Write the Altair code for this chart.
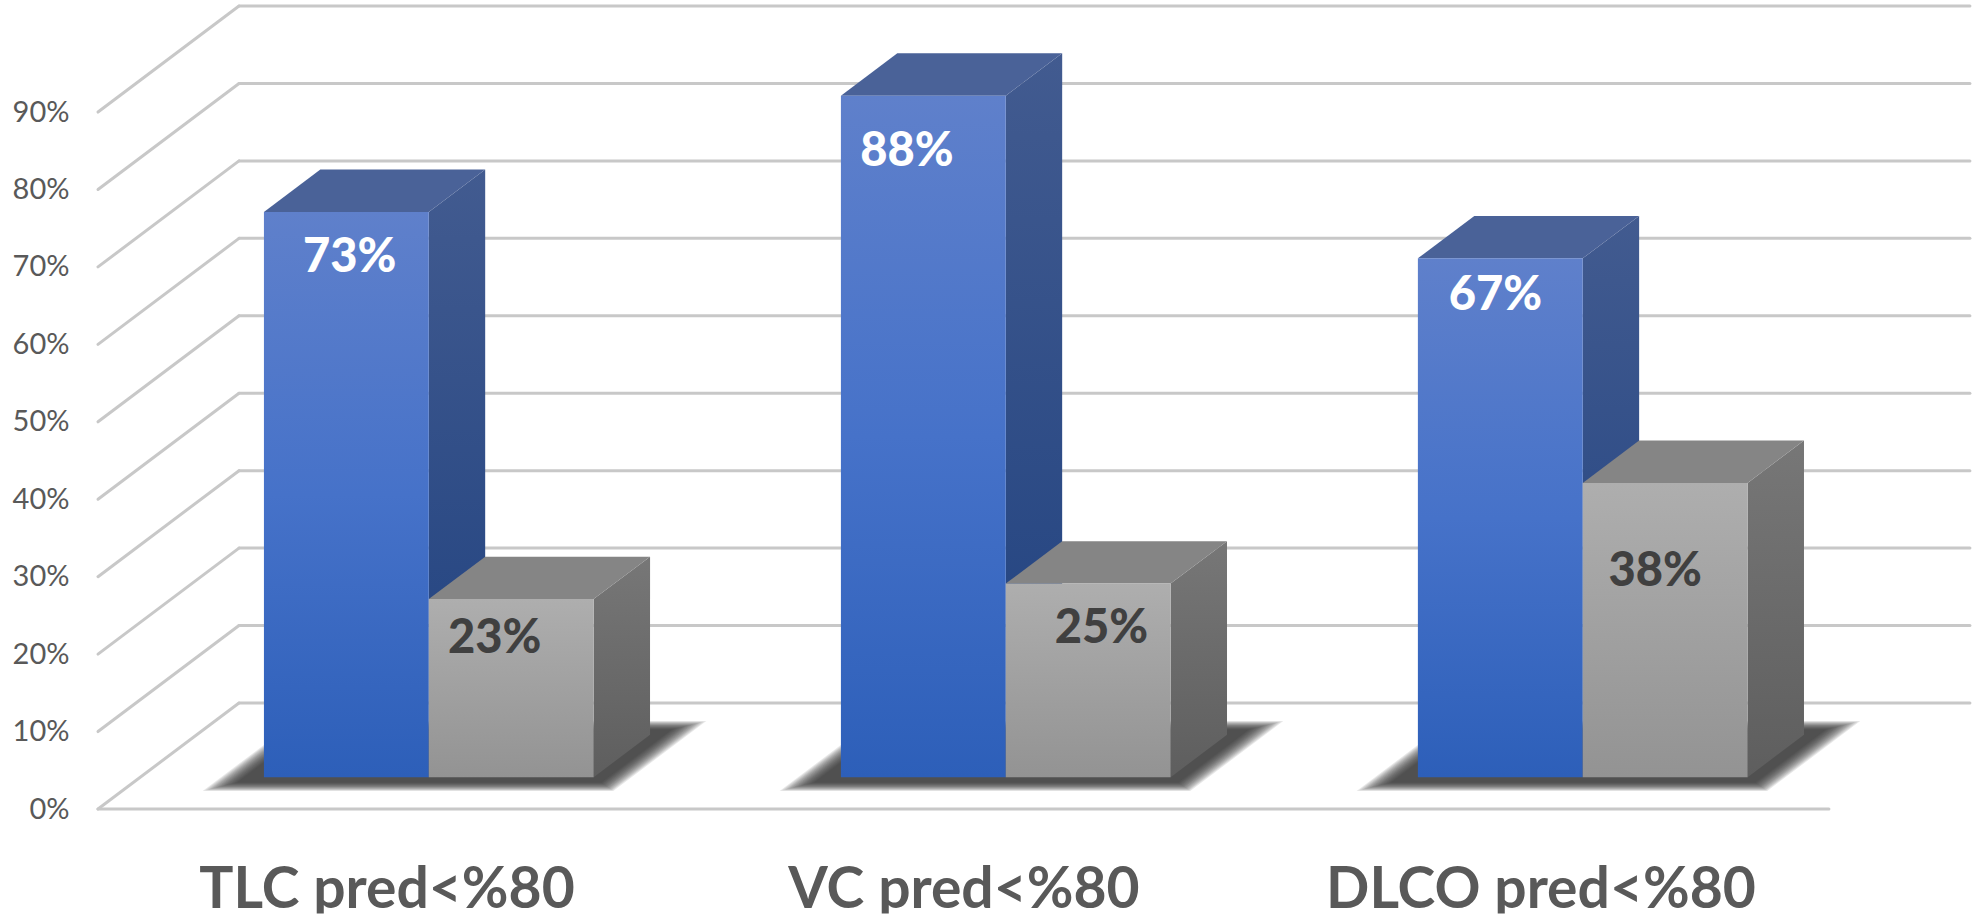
import altair as alt
import pandas as pd

# Chart values
CATEGORIES = ["TLC pred<%80", "VC pred<%80", "DLCO pred<%80"]
BLUE_VALUES = [73, 88, 67]
GRAY_VALUES = [23, 25, 38]
TICKS = [0, 10, 20, 30, 40, 50, 60, 70, 80, 90]

# Oblique projection: x is measured in bar widths, y in percent, depth runs 0..1
BAR_W_PX = 164.85
PX_PER_PCT = 7.744
DEPTH_X = 141 / BAR_W_PX
DEPTH_Y = 106 / PX_PER_PCT
GROUP_STEP = 3.5
GROUP_START = 0.75
BAR_D0, BAR_D1 = 0.30, 0.70
FLOOR_W = 10.5

PLOT_W, PLOT_H = 1874, 809
x_scale = alt.Scale(domain=[0, PLOT_W / BAR_W_PX], nice=False, zero=False)
y_scale = alt.Scale(domain=[0, PLOT_H / PX_PER_PCT], nice=False, zero=False)

# The value axis sits on the front edge of the floor, the category names under each group
x_axis = alt.Axis(
    values=[GROUP_START + 1 + g * GROUP_STEP for g in range(len(CATEGORIES))],
    labelExpr=f"{CATEGORIES!r}[round((datum.value - {GROUP_START + 1}) / {GROUP_STEP})]",
    title=None, domain=False, ticks=False, grid=False,
    labelFont="Lato", labelFontWeight="bold", labelFontSize=57, labelColor="#595959",
    labelPadding=98, labelBaseline="alphabetic", labelOverlap=False, labelFlush=False,
    labelBound=False, labelLimit=800,
)
y_axis = alt.Axis(
    values=TICKS,
    labelExpr="datum.value + '%'",
    title=None, domain=False, ticks=False, grid=False,
    labelFont="Lato", labelFontSize=29, labelColor="#595959",
    labelPadding=29, labelOverlap=False, labelBound=False,
)


def project(x, v, d):
    return x + d * DEPTH_X, v + d * DEPTH_Y


def grad(top, bottom, mid=None):
    stops = [alt.GradientStop(color=top, offset=0)]
    if mid:
        stops.append(alt.GradientStop(color=mid, offset=0.5))
    stops.append(alt.GradientStop(color=bottom, offset=1))
    return alt.LinearGradient(gradient="linear", stops=stops, x1=0, x2=0, y1=0, y2=1)


def X(field="x"):
    return alt.X(f"{field}:Q", scale=x_scale, axis=x_axis, title=None)


def Y(field="y"):
    return alt.Y(f"{field}:Q", scale=y_scale, axis=y_axis, title=None)


# Wall and floor lines
grid_rows = []
for v in TICKS:
    for name, pts in (("diag", [(0, 0), (0, 1)]), ("back", [(0, 1), (FLOOR_W, 1)])):
        for xu, d in pts:
            px, py = project(xu, v, d)
            grid_rows.append({"id": f"{name}{v}", "x": px, "y": py})
for xu in (0, FLOOR_W):
    grid_rows.append({"id": "front", "x": xu, "y": 0})

grid = alt.Chart(pd.DataFrame(grid_rows)).mark_line(
    color="#c8c8c8", strokeWidth=3, strokeCap="round", clip=False
).encode(x=X(), y=Y(), detail="id:N")

# Soft floor shadow: nested parallelograms of low opacity
SHADOW_LEVELS = 14
shadow_rows = []
for g in range(len(CATEGORIES)):
    x0 = GROUP_START + g * GROUP_STEP
    for lvl in range(SHADOW_LEVELS):
        grow = 1 - lvl / (SHADOW_LEVELS - 1)
        xa, xb = x0 - 0.12 - 0.14 * grow, x0 + 2.09 + 0.14 * grow
        d0, d1 = 0.25 - 0.08 * grow, 0.75 + 0.08 * grow
        for d in (d0, d1):
            pa, py = project(xa, 0, d)
            pb, _ = project(xb, 0, d)
            shadow_rows.append({"id": f"{g}-{lvl}", "x": pa, "x2": pb, "y": py})

shadow = alt.Chart(pd.DataFrame(shadow_rows)).mark_area(
    orient="horizontal", color="#2e2e2e", opacity=0.115, clip=False
).encode(x=X(), x2="x2:Q", y=Y(), detail="id:N")


def bar_layers(values, offset, front, side, top):
    fronts, sides, tops = [], [], []
    for g, v in enumerate(values):
        x0 = GROUP_START + g * GROUP_STEP + offset
        x1 = x0 + 1
        fx0, fy0 = project(x0, 0, BAR_D0)
        fx1, fy1 = project(x1, v, BAR_D0)
        fronts.append({"x": fx0, "x2": fx1, "y": fy1, "y2": fy0})
        for d in (BAR_D0, BAR_D1):
            sx, sy = project(x1, v, d)
            _, sb = project(x1, 0, d)
            sides.append({"id": g, "x": sx, "y": sy, "y2": sb})
            tx0, ty = project(x0, v, d)
            tx1, _ = project(x1, v, d)
            tops.append({"id": g, "x": tx0, "x2": tx1, "y": ty})
    side_chart = alt.Chart(pd.DataFrame(sides)).mark_area(
        orient="vertical", color=side, opacity=1, clip=False
    ).encode(x=X(), y=Y(), y2="y2:Q", detail="id:N")
    top_chart = alt.Chart(pd.DataFrame(tops)).mark_area(
        orient="horizontal", color=top, opacity=1, clip=False
    ).encode(x=X(), x2="x2:Q", y=Y(), detail="id:N")
    front_chart = alt.Chart(pd.DataFrame(fronts)).mark_rect(
        color=front, opacity=1, clip=False
    ).encode(x=X(), x2="x2:Q", y=Y(), y2="y2:Q")
    return [side_chart, top_chart, front_chart]


blue = bar_layers(
    BLUE_VALUES, 0,
    grad("#5f80cb", "#2d5fb9", "#4672c9"),
    grad("#425b90", "#1f417f"),
    "#4a6298",
)
gray = bar_layers(
    GRAY_VALUES, 1,
    grad("#aeaeae", "#939393"),
    grad("#777777", "#5e5e5e"),
    "#858585",
)

# Value labels, placed by hand on the front faces (bar widths right of the bar's left edge, percent below its top)
BLUE_LABEL_SHIFT = [(0.52, 6.0), (0.40, 7.3), (0.47, 4.9)]
GRAY_LABEL_SHIFT = [(0.40, 5.2), (0.58, 5.8), (0.44, 11.5)]


def label_frame(values, offset, shifts):
    rows = []
    for g, (v, (sx, sy)) in enumerate(zip(values, shifts)):
        x0 = GROUP_START + g * GROUP_STEP + offset
        px, py = project(x0 + sx, v - sy, BAR_D0)
        rows.append({"x": px, "y": py, "label": f"{v}%"})
    return pd.DataFrame(rows)


def label_chart(values, offset, shifts, colour):
    return alt.Chart(label_frame(values, offset, shifts)).mark_text(
        font="Lato", fontWeight=900, fontSize=47, color=colour, baseline="middle", align="center"
    ).encode(x=X(), y=Y(), text="label:N")


blue_labels = label_chart(BLUE_VALUES, 0, BLUE_LABEL_SHIFT, "#ffffff")
gray_labels = label_chart(GRAY_VALUES, 1, GRAY_LABEL_SHIFT, "#404040")

# White strip trimming the descenders of the category names at the foot of the chart
trim = alt.Chart(
    pd.DataFrame({"x": [0.0], "x2": [PLOT_W / BAR_W_PX], "y": [-13.5], "y2": [-14.2]})
).mark_rect(color="#ffffff", opacity=1, clip=False).encode(x=X(), x2="x2:Q", y=Y(), y2="y2:Q")

chart = alt.layer(
    grid, shadow, *blue, *gray, blue_labels, gray_labels, trim
).properties(
    width=PLOT_W,
    height=PLOT_H,
    padding={"left": 98, "right": 0, "top": 0, "bottom": 109},
    autosize=alt.AutoSizeParams(type="none"),
    background="#ffffff",
).configure_view(stroke=None)

chart.save("out.html", embed_options={"renderer": "svg", "actions": False})
